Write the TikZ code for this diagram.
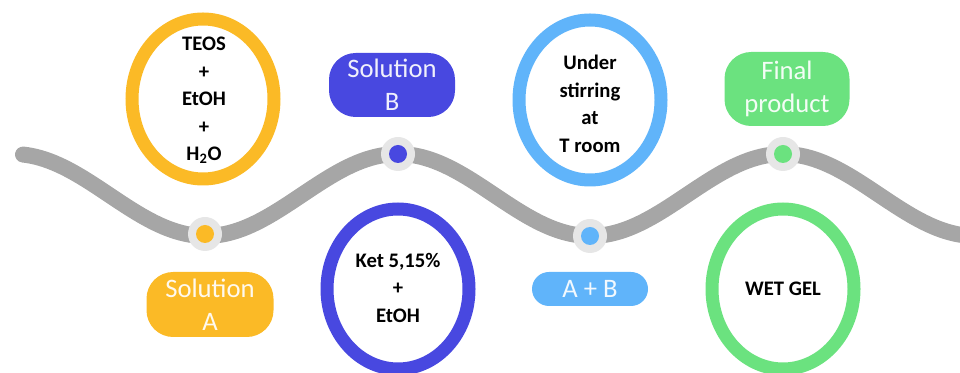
\documentclass[tikz,border=0pt]{standalone}
\usepackage{fontspec}
\setmainfont{Carlito}
\usetikzlibrary{shapes.geometric}

\definecolor{waveGray}{HTML}{A6A6A6}
\definecolor{ringGray}{HTML}{E6E6E6}
\definecolor{solA}{HTML}{FBBA26}
\definecolor{solB}{HTML}{4848E0}
\definecolor{mixAB}{HTML}{60B4FA}
\definecolor{gel}{HTML}{6BE27F}

\begin{document}
\begin{tikzpicture}[x=0.75pt,y=-0.75pt,
  wave/.style={draw=waveGray, line width=12pt, line cap=round},
  ring/.style={circle, fill=ringGray, minimum size=25.5pt, inner sep=0pt},
  core/.style={circle, fill=#1, minimum size=13.5pt, inner sep=0pt},
  bubble/.style={ellipse, draw=#1, line width=9.75pt, fill=white,
    minimum width=106.5pt, minimum height=120pt, inner sep=0pt},
  bubbletext/.style={align=center, inner sep=0pt,
    font=\bfseries\fontsize{15.5}{20.6}\selectfont},
  tag/.style={rounded corners=20pt, fill=#1, text=white!92!#1,
    align=center, inner sep=0pt, font=\fontsize{20}{24.75}\selectfont},
]
\useasboundingbox (0,0) rectangle (960,373);

% the timeline wave
\draw[wave] plot[domain=23:985, samples=220]
  (\x, {195 - 41*cos((\x-13)/385*360)});

% stations on the wave
\node[ring] (ra) at (205,234) {};
\node[core=solA] (da) at (ra) {};
\node[ring] (rb) at (398,154) {};
\node[core=solB] (db) at (rb) {};
\node[ring] (rab) at (590,236) {};
\node[core=mixAB] (dab) at (rab) {};
\node[ring] (rf) at (783,154) {};
\node[core=gel] (df) at (rf) {};

% composition bubbles
\node[bubble=solA] (ea) at (203,99) {};
\node[bubbletext] (ta) at (204,100.5) {TEOS\\+\\EtOH\\+\\H\textsubscript{2}O};

\node[bubble=solB] (eb) at (398,289) {};
\node[bubbletext] (tb) at (398,287.5) {Ket 5,15\%\\+\\EtOH};

\node[bubble=mixAB] (eab) at (590,100) {};
\node[bubbletext] (tab) at (590,104) {Under\\stirring\\at\\T room};

\node[bubble=gel] (ef) at (783,289) {};
\node[bubbletext] (tf) at (783,288.5) {WET GEL};

% step tags
\node[tag=solA, minimum width=95.25pt, minimum height=48.75pt] (la) at (210,304.5) {Solution\\A};
\node[tag=solB, minimum width=94.5pt, minimum height=48pt] (lb) at (392,85) {Solution\\B};
\node[tag=mixAB, minimum width=87pt, minimum height=25.5pt, rounded corners=12.75pt] (lab) at (590,289) {A + B};
\node[tag=gel, minimum width=93.75pt, minimum height=55.5pt] (lf) at (787,89) {Final\\product};
\end{tikzpicture}
\end{document}
